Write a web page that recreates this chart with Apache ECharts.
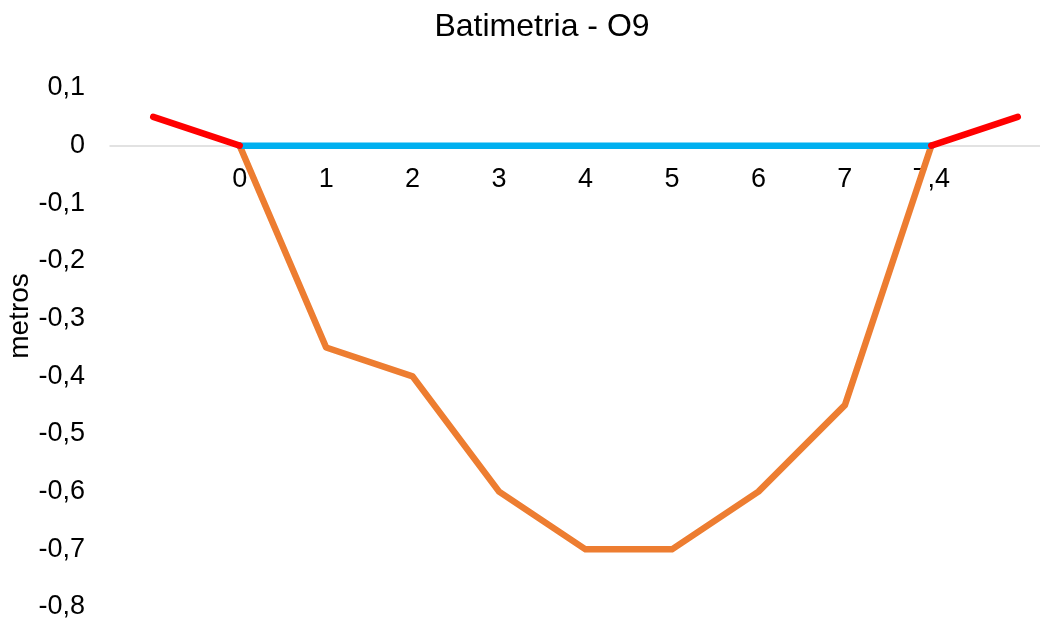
<!DOCTYPE html>
<html>
<head>
<meta charset="utf-8">
<script src="https://cdn.jsdelivr.net/npm/echarts@6/dist/echarts.min.js"></script>
<style>
html,body{margin:0;padding:0;background:#fff;}
#chart{width:1040px;height:621px;}
</style>
</head>
<body>
<div id="chart"></div>
<script>
const categories = ["", "0", "1", "2", "3", "4", "5", "6", "7", "7,4", ""];
const depth      = [null, 0, -0.35, -0.4, -0.6, -0.7, -0.7, -0.6, -0.45, 0, null];
const waterLine  = [null, 0, 0, 0, 0, 0, 0, 0, 0, 0, null];
const bankLeft   = [0.05, 0, null, null, null, null, null, null, null, null, null];
const bankRight  = [null, null, null, null, null, null, null, null, null, 0, 0.05];
const yTicks = { min: -0.8, max: 0.1, interval: 0.1 };

const FONT = "'Liberation Sans', Arial, sans-serif";
const GRID_TOP = 88, GRID_H = 519;
const zeroOffset = -GRID_H * (0 - yTicks.min) / (yTicks.max - yTicks.min);

const chart = echarts.init(document.getElementById('chart'));
const lineSeries = (name, data, color) => ({
  name, type: 'line', data, showSymbol: false, symbol: 'none',
  connectNulls: false,
  lineStyle: { color, width: 6.5, cap: 'round', join: 'round' },
  itemStyle: { color }
});
chart.setOption({
  animation: false,
  backgroundColor: '#ffffff',
  title: {
    text: 'Batimetria - O9',
    left: 537, top: 6, textAlign: 'center',
    textStyle: { fontFamily: FONT, fontSize: 32, fontWeight: 'normal', color: '#000' }
  },
  graphic: [{
    type: 'text',
    x: 20, y: 316,
    rotation: Math.PI / 2,
    style: {
      text: 'metros',
      font: "28px 'Liberation Sans', Arial, sans-serif",
      fill: '#000',
      align: 'center',
      verticalAlign: 'middle'
    }
  }],
  grid: { left: 110, top: GRID_TOP, width: 951, height: GRID_H, outerBoundsMode: 'none', containLabel: false },
  xAxis: {
    type: 'category',
    data: categories,
    boundaryGap: true,
    offset: zeroOffset,
    axisLine: { onZero: false, lineStyle: { color: '#d9d9d9', width: 1.5 } },
    axisTick: { show: false },
    axisLabel: { fontFamily: FONT, fontSize: 27, color: '#000', margin: 20, interval: 0 },
    splitLine: { show: false }
  },
  yAxis: {
    type: 'value',
    min: yTicks.min, max: yTicks.max, interval: yTicks.interval,
    axisLine: { show: false },
    axisTick: { show: false },
    splitLine: { show: false },
    axisLabel: {
      fontFamily: FONT, fontSize: 27, color: '#000', margin: 25,
      formatter: v => {
        const r = Math.round(v * 10) / 10;
        return (r === 0 ? '0' : r.toFixed(1)).replace('.', ',');
      }
    }
  },
  series: [
    lineSeries('Fundo', depth, '#ED7D31'),
    lineSeries('Água', waterLine, '#00B0F0'),
    lineSeries('Margem E', bankLeft, '#FF0000'),
    lineSeries('Margem D', bankRight, '#FF0000')
  ]
});
</script>
</body>
</html>
